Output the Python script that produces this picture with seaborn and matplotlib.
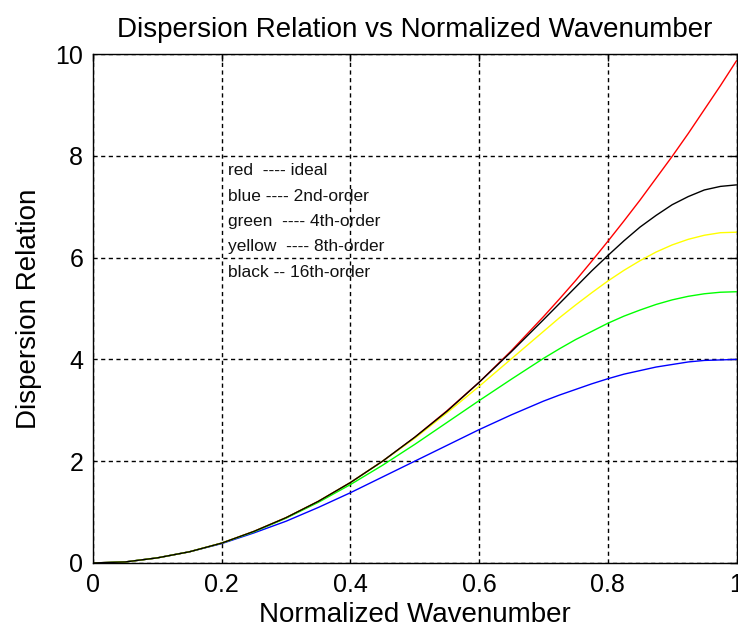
import pandas as pd
import seaborn as sns
import matplotlib as mpl
mpl.use('Agg')
import matplotlib.pyplot as plt

# normalized wavenumber samples (denser where the curves bend)
k = [0.00, 0.05, 0.10, 0.15, 0.20, 0.25, 0.30, 0.35, 0.40, 0.45, 0.50,
     0.55, 0.60, 0.65, 0.70, 0.725, 0.75, 0.775, 0.80, 0.825, 0.85,
     0.875, 0.90, 0.925, 0.95, 0.975, 1.00]

# values
ideal = [0, 0.02, 0.10, 0.22, 0.39, 0.62, 0.89, 1.21, 1.58, 2.00, 2.47,
         2.99, 3.55, 4.17, 4.84, 5.19, 5.55, 5.93, 6.32, 6.72, 7.13,
         7.56, 7.99, 8.44, 8.91, 9.38, 9.87]
order2 = [0, 0.02, 0.10, 0.22, 0.38, 0.59, 0.82, 1.09, 1.38, 1.69, 2.00,
          2.31, 2.62, 2.91, 3.18, 3.30, 3.41, 3.52, 3.62, 3.71, 3.78,
          3.85, 3.90, 3.95, 3.98, 3.99, 4.00]
order4 = [0, 0.02, 0.10, 0.22, 0.39, 0.61, 0.88, 1.19, 1.54, 1.92, 2.33,
          2.76, 3.19, 3.61, 4.02, 4.21, 4.39, 4.55, 4.71, 4.85, 4.97,
          5.08, 5.17, 5.24, 5.29, 5.32, 5.33]
order8 = [0, 0.02, 0.10, 0.22, 0.39, 0.62, 0.89, 1.21, 1.58, 2.00, 2.45,
          2.95, 3.47, 4.01, 4.55, 4.82, 5.07, 5.31, 5.54, 5.75, 5.94,
          6.11, 6.25, 6.36, 6.44, 6.49, 6.50]
order16 = [0, 0.02, 0.10, 0.22, 0.39, 0.62, 0.89, 1.21, 1.58, 2.00, 2.47,
           2.98, 3.55, 4.15, 4.78, 5.10, 5.42, 5.74, 6.04, 6.33, 6.60,
           6.83, 7.04, 7.20, 7.33, 7.40, 7.43]

series = ['ideal', '2nd-order', '4th-order', '8th-order', '16th-order']
colors = ['#ff0000', '#0000ff', '#00ff00', '#ffff00', '#000000']
notes = ['red  ---- ideal', 'blue ---- 2nd-order', 'green  ---- 4th-order',
         'yellow  ---- 8th-order', 'black -- 16th-order']

df = pd.DataFrame({'k': k, 'ideal': ideal, '2nd-order': order2,
                   '4th-order': order4, '8th-order': order8,
                   '16th-order': order16})
long = df.melt(id_vars='k', var_name='order', value_name='w')

sns.set_theme(style='white')
plt.rcParams['font.family'] = ['Liberation Sans', 'DejaVu Sans']

fig = plt.figure(figsize=(7.38, 6.29), dpi=100)
ax = fig.add_axes([0.126, 0.105, 0.872, 0.809])

sns.lineplot(data=long, x='k', y='w', hue='order', hue_order=series,
             palette=colors, linewidth=1.0, legend=False, ax=ax,
             sort=False, estimator=None)

ax.set_xlim(0, 1)
ax.set_ylim(0, 10)
ax.set_xticks([0, 0.2, 0.4, 0.6, 0.8, 1])
ax.set_xticklabels(['0', '0.2', '0.4', '0.6', '0.8', '1'])
ax.set_yticks([0, 2, 4, 6, 8, 10])
ax.set_yticklabels(['0', '2', '4', '6', '8', '10'])
ax.grid(True, color='black', linestyle=(0, (3, 2.5)), linewidth=1.0)
ax.tick_params(direction='in', length=5, width=1, colors='black',
               labelsize=18, pad=7, top=True, right=True)
for s in ax.spines.values():
    s.set_color('black')
    s.set_linewidth(1.0)

ax.set_xlabel('Normalized Wavenumber', fontsize=20, color='black', labelpad=4)
ax.set_ylabel('Dispersion Relation', fontsize=20, color='black', labelpad=10)
ax.set_title('Dispersion Relation vs Normalized Wavenumber', fontsize=20,
             color='black', pad=12)

for i, t in enumerate(notes):
    ax.text(0.21, 7.71 - 0.5 * i, t, fontsize=12.5, color='#111111',
            va='center', ha='left')

plt.savefig('out.png', dpi=100)
